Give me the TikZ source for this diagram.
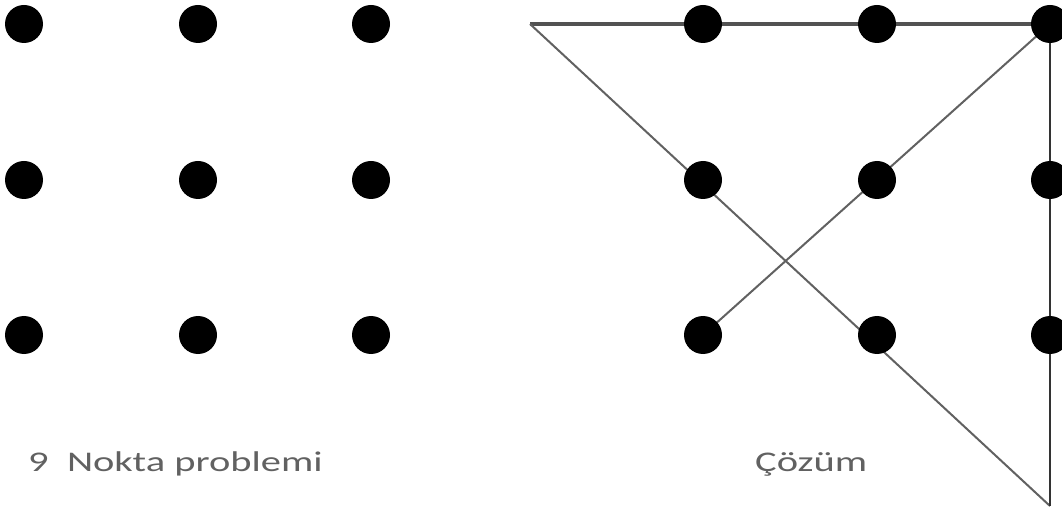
\documentclass[tikz,border=0pt]{standalone}
\usepackage{fontspec}
\setmainfont{Carlito}
\usetikzlibrary{backgrounds}
\begin{document}
\begin{tikzpicture}[x=1pt,y=-1pt,
  dot/.style={circle,fill=black,inner sep=0pt,minimum size=38pt},
  thickline/.style={draw=black!68,line width=4pt},
  vline/.style={draw=black!80,line width=2.8pt},
  thinline/.style={draw=black!62,line width=2pt},
  lbl/.style={anchor=base west,inner sep=0pt,text=black!62,font=\fontsize{28.5}{32}\selectfont}]
\useasboundingbox (0,0) rectangle (1062,510);
% left grid
\node[dot] (l11) at (24,24) {};
\node[dot] (l12) at (198,24) {};
\node[dot] (l13) at (371,24) {};
\node[dot] (l21) at (24,180) {};
\node[dot] (l22) at (198,180) {};
\node[dot] (l23) at (371,180) {};
\node[dot] (l31) at (24,335) {};
\node[dot] (l32) at (198,335) {};
\node[dot] (l33) at (371,335) {};
% right grid
\node[dot] (r11) at (703,24) {};
\node[dot] (r12) at (877,24) {};
\node[dot] (r13) at (1050,24) {};
\node[dot] (r21) at (703,180) {};
\node[dot] (r22) at (877,180) {};
\node[dot] (r23) at (1050,180) {};
\node[dot] (r31) at (703,335) {};
\node[dot] (r32) at (877,335) {};
\node[dot] (r33) at (1050,335) {};
\coordinate (start) at (530,24);
\coordinate (corner) at (1050,506);
\begin{pgfonlayer}{background}
\draw[thickline] (start) -- (r13.center);
\draw[thinline] (start) -- (corner);
\draw[vline] (r13.center) -- (corner);
\draw[thinline] (r31.center) -- (r13.center);
\end{pgfonlayer}
\node[lbl] (t1) at (28,471) {\scalebox{1.42}[1]{9\ \ Nokta problemi}};
\node[lbl] (t2) at (755,471) {\scalebox{1.42}[1]{Çözüm}};
\end{tikzpicture}
\end{document}
